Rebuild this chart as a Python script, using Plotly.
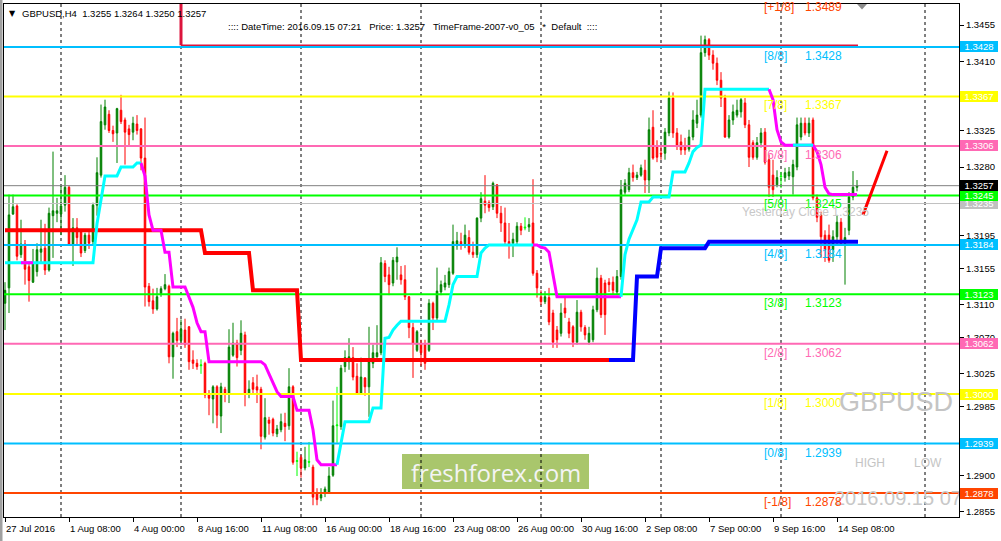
import plotly.graph_objects as go

# ---------------- data (GBPUSD H4, bar 0 = 27 Jul 2016 16:00) ----------------
bar_open = [1.3112,1.3131,1.3222,1.3232,1.3172,1.3185,1.3157,1.3138,1.3151,1.3175,
            1.3180,1.3153,1.3220,1.3223,1.3222,1.3233,1.3255,1.3185,1.3205,1.3200,
            1.3177,1.3196,1.3188,1.3233,1.3270,1.3332,1.3345,1.3325,1.3322,1.3350,
            1.3338,1.3327,1.3323,1.3333,1.3327,1.3291,1.3133,1.3115,1.3105,1.3124,
            1.3130,1.3133,1.3046,1.3077,1.3066,1.3079,1.3083,1.3042,1.3038,1.3035,
            1.3038,1.2999,1.2994,1.3009,1.2973,1.3006,1.3001,1.3048,1.3063,1.3054,
            1.3073,1.3001,1.3014,1.3009,1.3006,1.2947,1.2968,1.2969,1.2951,1.2956,
            1.2964,1.2961,1.3009,1.2917,1.2922,1.2909,1.2917,1.2910,1.2878,1.2872,
            1.2878,1.2879,1.2900,1.2961,1.2960,1.3034,1.3040,1.3045,1.3022,1.3001,
            1.3020,1.3009,1.3038,1.3046,1.3051,1.3161,1.3147,1.3137,1.3163,1.3147,
            1.3141,1.3120,1.3082,1.3054,1.3063,1.3061,1.3054,1.3112,1.3094,1.3126,
            1.3132,1.3135,1.3149,1.3183,1.3188,1.3184,1.3193,1.3175,1.3172,1.3217,
            1.3238,1.3236,1.3231,1.3258,1.3223,1.3211,1.3188,1.3186,1.3188,1.3207,
            1.3206,1.3206,1.3211,1.3149,1.3120,1.3114,1.3119,1.3100,1.3079,1.3075,
            1.3106,1.3089,1.3083,1.3064,1.3101,1.3082,1.3064,1.3067,1.3104,1.3143,
            1.3137,1.3138,1.3138,1.3126,1.3145,1.3249,1.3252,1.3273,1.3267,1.3270,
            1.3276,1.3264,1.3329,1.3305,1.3297,1.3297,1.3322,1.3365,1.3322,1.3311,
            1.3305,1.3302,1.3317,1.3334,1.3344,1.3421,1.3437,1.3418,1.3408,1.3387,
            1.3365,1.3317,1.3338,1.3344,1.3348,1.3359,1.3332,1.3310,1.3292,1.3310,
            1.3323,1.3289,1.3270,1.3258,1.3268,1.3267,1.3269,1.3268,1.3280,1.3317,
            1.3334,1.3322,1.3338,1.3242,1.3221,1.3196,1.3196,1.3178,1.3194,1.3212,
            1.3186,1.3202,1.3243,1.3255]
bar_high = [1.3138,1.3246,1.3246,1.3234,1.3215,1.3190,1.3162,1.3179,1.3186,1.3215,
            1.3210,1.3230,1.3299,1.3242,1.3258,1.3270,1.3257,1.3217,1.3217,1.3202,
            1.3199,1.3202,1.3236,1.3292,1.3357,1.3363,1.3350,1.3331,1.3353,1.3369,
            1.3341,1.3332,1.3342,1.3344,1.3328,1.3341,1.3137,1.3130,1.3131,1.3133,
            1.3148,1.3135,1.3077,1.3094,1.3092,1.3093,1.3084,1.3054,1.3043,1.3043,
            1.3040,1.3005,1.3011,1.3011,1.3014,1.3009,1.3080,1.3088,1.3067,1.3091,
            1.3077,1.3017,1.3021,1.3024,1.3009,1.2995,1.2972,1.2971,1.2962,1.2976,
            1.2977,1.3032,1.3011,1.2929,1.2925,1.2935,1.2941,1.2913,1.2884,1.2884,
            1.2886,1.2910,1.2992,1.3009,1.3036,1.3054,1.3069,1.3058,1.3038,1.3045,
            1.3021,1.3083,1.3061,1.3085,1.3169,1.3165,1.3157,1.3169,1.3181,1.3158,
            1.3159,1.3121,1.3088,1.3079,1.3067,1.3067,1.3117,1.3114,1.3156,1.3140,
            1.3147,1.3156,1.3209,1.3200,1.3199,1.3209,1.3202,1.3188,1.3218,1.3249,
            1.3270,1.3239,1.3262,1.3259,1.3232,1.3230,1.3211,1.3199,1.3212,1.3211,
            1.3218,1.3217,1.3265,1.3153,1.3128,1.3127,1.3131,1.3104,1.3084,1.3112,
            1.3119,1.3094,1.3085,1.3116,1.3104,1.3085,1.3083,1.3109,1.3156,1.3147,
            1.3141,1.3143,1.3145,1.3153,1.3264,1.3265,1.3279,1.3283,1.3274,1.3283,
            1.3289,1.3341,1.3350,1.3313,1.3307,1.3328,1.3373,1.3372,1.3328,1.3320,
            1.3316,1.3326,1.3350,1.3363,1.3442,1.3442,1.3439,1.3424,1.3415,1.3397,
            1.3369,1.3344,1.3357,1.3363,1.3365,1.3365,1.3338,1.3313,1.3317,1.3328,
            1.3328,1.3295,1.3289,1.3276,1.3274,1.3279,1.3280,1.3289,1.3341,1.3341,
            1.3341,1.3341,1.3341,1.3246,1.3225,1.3202,1.3209,1.3202,1.3221,1.3217,
            1.3205,1.3249,1.3275,1.3264]
bar_low = [1.3079,1.3100,1.3221,1.3165,1.3168,1.3135,1.3114,1.3137,1.3145,1.3162,
           1.3147,1.3151,1.3168,1.3212,1.3196,1.3225,1.3183,1.3158,1.3184,1.3169,
           1.3174,1.3179,1.3184,1.3220,1.3267,1.3326,1.3322,1.3311,1.3285,1.3333,
           1.3283,1.3307,1.3313,1.3320,1.3276,1.3108,1.3108,1.3099,1.3103,1.3120,
           1.3128,1.3038,1.3019,1.3058,1.3061,1.3057,1.3030,1.3031,1.3030,1.3025,
           1.2995,1.2974,1.2964,1.2958,1.2952,1.2990,1.2989,1.3046,1.3034,1.3048,
           1.2985,1.2995,1.2999,1.2989,1.2932,1.2944,1.2950,1.2948,1.2947,1.2953,
           1.2942,1.2956,1.2913,1.2899,1.2897,1.2906,1.2910,1.2863,1.2863,1.2868,
           1.2873,1.2877,1.2898,1.2940,1.2956,1.3027,1.3030,1.3017,1.2999,1.2999,
           1.2998,1.2972,1.3032,1.3045,1.3048,1.3138,1.3122,1.3133,1.3141,1.3135,
           1.3116,1.3069,1.3020,1.3052,1.3035,1.3030,1.3052,1.3079,1.3091,1.3122,
           1.3128,1.3131,1.3147,1.3178,1.3178,1.3180,1.3172,1.3168,1.3168,1.3212,
           1.3223,1.3225,1.3227,1.3217,1.3200,1.3184,1.3167,1.3169,1.3184,1.3196,
           1.3202,1.3200,1.3146,1.3119,1.3110,1.3111,1.3085,1.3057,1.3057,1.3071,
           1.3094,1.3069,1.3058,1.3061,1.3077,1.3067,1.3061,1.3064,1.3101,1.3094,
           1.3073,1.3126,1.3122,1.3122,1.3141,1.3246,1.3249,1.3262,1.3264,1.3268,
           1.3248,1.3248,1.3289,1.3286,1.3289,1.3289,1.3318,1.3316,1.3301,1.3295,
           1.3295,1.3299,1.3313,1.3328,1.3341,1.3416,1.3412,1.3400,1.3381,1.3354,
           1.3316,1.3315,1.3332,1.3341,1.3341,1.3328,1.3280,1.3289,1.3289,1.3304,
           1.3283,1.3243,1.3243,1.3255,1.3254,1.3262,1.3264,1.3246,1.3276,1.3313,
           1.3319,1.3317,1.3239,1.3212,1.3168,1.3163,1.3162,1.3163,1.3184,1.3184,
           1.3135,1.3196,1.3239,1.3250]
bar_close = [1.3128,1.3221,1.3231,1.3170,1.3185,1.3154,1.3140,1.3162,1.3178,1.3179,
             1.3153,1.3223,1.3226,1.3226,1.3232,1.3255,1.3185,1.3205,1.3193,1.3174,
             1.3196,1.3186,1.3233,1.3273,1.3336,1.3354,1.3325,1.3321,1.3352,1.3336,
             1.3323,1.3320,1.3334,1.3325,1.3291,1.3132,1.3114,1.3105,1.3120,1.3130,
             1.3135,1.3046,1.3075,1.3066,1.3080,1.3061,1.3040,1.3038,1.3034,1.3036,
             1.2999,1.2995,1.3009,1.2974,1.3009,1.3001,1.3058,1.3063,1.3045,1.3075,
             1.3001,1.3006,1.3006,1.3005,1.2948,1.2971,1.2964,1.2952,1.2957,1.2966,
             1.2960,1.3009,1.2916,1.2918,1.2909,1.2919,1.2916,1.2873,1.2870,1.2876,
             1.2883,1.2899,1.2961,1.2962,1.3032,1.3045,1.3046,1.3021,1.3001,1.3021,
             1.3009,1.3040,1.3051,1.3051,1.3162,1.3145,1.3135,1.3165,1.3169,1.3141,
             1.3120,1.3082,1.3063,1.3077,1.3051,1.3038,1.3112,1.3094,1.3127,1.3135,
             1.3137,1.3151,1.3188,1.3189,1.3184,1.3196,1.3175,1.3172,1.3217,1.3241,
             1.3233,1.3230,1.3260,1.3223,1.3211,1.3188,1.3184,1.3191,1.3207,1.3202,
             1.3205,1.3209,1.3149,1.3131,1.3114,1.3120,1.3089,1.3064,1.3067,1.3100,
             1.3100,1.3075,1.3064,1.3101,1.3083,1.3073,1.3075,1.3104,1.3143,1.3098,
             1.3098,1.3135,1.3128,1.3145,1.3252,1.3260,1.3273,1.3267,1.3270,1.3279,
             1.3264,1.3326,1.3291,1.3292,1.3296,1.3323,1.3365,1.3322,1.3307,1.3301,
             1.3301,1.3317,1.3338,1.3344,1.3421,1.3437,1.3418,1.3408,1.3387,1.3365,
             1.3317,1.3338,1.3348,1.3350,1.3363,1.3332,1.3292,1.3292,1.3310,1.3322,
             1.3286,1.3255,1.3252,1.3267,1.3269,1.3273,1.3274,1.3283,1.3332,1.3334,
             1.3322,1.3334,1.3242,1.3218,1.3194,1.3178,1.3165,1.3194,1.3212,1.3186,
             1.3193,1.3243,1.3255,1.3257]
doji_bars = [49, 73, 76, 83, 130, 194]

time_tick_bars = [0, 16, 32, 48, 64, 80, 96, 112, 128, 144, 160, 176, 192, 208]
time_tick_labels = ["27 Jul 2016", "1 Aug 08:00", "4 Aug 00:00", "8 Aug 16:00", "11 Aug 08:00",
                    "16 Aug 00:00", "18 Aug 16:00", "23 Aug 08:00", "26 Aug 00:00", "30 Aug 16:00",
                    "2 Sep 08:00", "7 Sep 00:00", "9 Sep 16:00", "14 Sep 08:00"]
separator_bars = [14, 44, 74, 104, 134, 164, 194, 230]
price_ticks = [1.3455, 1.3410, 1.3325, 1.3280, 1.3195, 1.3155, 1.3110, 1.3070, 1.3025, 1.2985, 1.2900, 1.2855]

murrey_names = ["[+1/8]", "[8/8]", "[7/8]", "[6/8]", "[5/8]", "[4/8]", "[3/8]", "[2/8]", "[1/8]", "[0/8]", "[-1/8]"]
murrey_levels = [1.3489, 1.3428, 1.3367, 1.3306, 1.3245, 1.3184, 1.3123, 1.3062, 1.3000, 1.2939, 1.2878]
murrey_colors = ["#FF4500", "#00BFFF", "#FFFF00", "#FF69B4", "#00FF00", "#00BFFF",
                 "#00FF00", "#FF69B4", "#FFFF00", "#00BFFF", "#FF4500"]

current_price = 1.3257
yesterday_close = 1.3235
week_high = 1.3430
week_high_bar = 44
last_bar = 213

# trailing-stop indicator (cyan = up, magenta = down)
up1_x = [0, 22, 23, 24, 25, 28, 29, 32, 33, 34]
up1_y = [1.3162, 1.3162, 1.3210, 1.3240, 1.3269, 1.3269, 1.3280, 1.3280, 1.3285, 1.3285]
dn0_x = [4, 7]
dn0_y = [1.3162, 1.3162]
dn1_x = [34, 35, 36, 37, 39, 40, 41, 42, 45, 46, 47, 48, 49, 50, 51, 64, 65, 66, 67, 68, 69, 72, 73, 76, 77, 78, 79, 83]
dn1_y = [1.3285, 1.3269, 1.3221, 1.3202, 1.3202, 1.3175, 1.3175, 1.3132, 1.3132, 1.3120, 1.3107, 1.3088,
         1.3077, 1.3077, 1.3040, 1.3040, 1.3036, 1.3025, 1.3014, 1.3003, 1.2997, 1.2997, 1.2980, 1.2980,
         1.2956, 1.2919, 1.2913, 1.2913]
up2_x = [83, 84, 85, 91, 92, 94, 95, 96, 97, 98, 99, 110, 111, 112, 113, 118, 119, 120, 121, 132]
up2_y = [1.2913, 1.2940, 1.2966, 1.2966, 1.2983, 1.2983, 1.3069, 1.3070, 1.3079, 1.3085, 1.3090, 1.3090,
         1.3110, 1.3135, 1.3145, 1.3145, 1.3174, 1.3180, 1.3184, 1.3184]
dn2_x = [132, 133, 134, 135, 136, 137, 138, 154]
dn2_y = [1.3184, 1.3184, 1.3181, 1.3180, 1.3175, 1.3147, 1.3120, 1.3120]
up3_x = [154, 155, 156, 157, 158, 159, 161, 162, 166, 167, 170, 171, 172, 173, 174, 175, 191]
up3_y = [1.3120, 1.3172, 1.3191, 1.3202, 1.3215, 1.3237, 1.3237, 1.3243, 1.3243, 1.3274, 1.3274, 1.3285,
         1.3299, 1.3304, 1.3307, 1.3376, 1.3376]
up4_x = [197, 202]
up4_y = [1.3307, 1.3307]
dn3_x = [191, 192, 193, 194, 195, 202, 203, 204, 205, 206, 207, 213]
dn3_y = [1.3376, 1.3363, 1.3326, 1.3311, 1.3307, 1.3307, 1.3299, 1.3283, 1.3255, 1.3247, 1.3246, 1.3246]

# step line (red = down regime, blue = up regime)
red_x = [0, 49, 50, 61, 62, 73, 74, 151]
red_y = [1.3202, 1.3202, 1.3174, 1.3174, 1.3128, 1.3128, 1.3042, 1.3042]
blue_x = [151, 157, 158, 163, 164, 175, 176, 213.25]
blue_y = [1.3042, 1.3042, 1.3145, 1.3145, 1.3180, 1.3180, 1.3188, 1.3188]

# projection trend line
trend_x = [214.5, 220.5]
trend_y = [1.3221, 1.3300]

# ---------------- layout helpers ----------------
PL, PR, PT, PB = 4, 959, 4, 517
X0, X1 = -0.25, 238.5
Y0, Y1 = 1.28485, 1.34810


def px(x):
    return (x - PL) / (PR - PL)


def py(y):
    return (PB - y) / (PB - PT)


def bar_at(x):
    return X0 + (x - PL) / (PR - PL) * (X1 - X0)


def price_at(y):
    return Y0 + (PB - y) / (PB - PT) * (Y1 - Y0)


def y_of_price(p):
    return PB - (p - Y0) / (Y1 - Y0) * (PB - PT)


FONT = "Liberation Sans, Arial, sans-serif"

fig = go.Figure()

# candles
reg = [i for i in range(len(bar_open)) if i not in doji_bars]
fig.add_trace(go.Candlestick(
    x=reg,
    open=[bar_open[i] for i in reg], high=[bar_high[i] for i in reg],
    low=[bar_low[i] for i in reg], close=[bar_close[i] for i in reg],
    increasing=dict(line=dict(color="#008000", width=1), fillcolor="#008000"),
    decreasing=dict(line=dict(color="#FF0000", width=1), fillcolor="#FF0000"),
    whiskerwidth=0, hoverinfo="skip"))
fig.add_trace(go.Candlestick(
    x=doji_bars,
    open=[bar_open[i] for i in doji_bars], high=[bar_high[i] for i in doji_bars],
    low=[bar_low[i] for i in doji_bars], close=[bar_close[i] for i in doji_bars],
    increasing=dict(line=dict(color="#00FF00", width=1), fillcolor="#00FF00"),
    decreasing=dict(line=dict(color="#00FF00", width=1), fillcolor="#00FF00"),
    whiskerwidth=0, hoverinfo="skip"))

# horizontal lines
for lvl, col in zip(murrey_levels, murrey_colors):
    fig.add_trace(go.Scatter(x=[X0 - 5, X1 + 5], y=[lvl, lvl], mode="lines",
                             line=dict(color=col, width=2), hoverinfo="skip"))
fig.add_trace(go.Scatter(x=[X0 - 5, X1 + 5], y=[current_price] * 2, mode="lines",
                         line=dict(color="#808080", width=1), hoverinfo="skip"))
fig.add_trace(go.Scatter(x=[X0 - 5, X1 + 5], y=[yesterday_close] * 2, mode="lines",
                         line=dict(color="#C0C0C0", width=1), hoverinfo="skip"))

# step line
fig.add_trace(go.Scatter(x=red_x, y=red_y, mode="lines", line=dict(color="#FF0000", width=4), hoverinfo="skip"))
fig.add_trace(go.Scatter(x=blue_x, y=blue_y, mode="lines", line=dict(color="#0000FF", width=4), hoverinfo="skip"))

# trailing stop
for xs, ys, col in [(up1_x, up1_y, "#00FFFF"), (dn0_x, dn0_y, "#FF00FF"), (dn1_x, dn1_y, "#FF00FF"),
                    (up2_x, up2_y, "#00FFFF"), (dn2_x, dn2_y, "#FF00FF"), (up3_x, up3_y, "#00FFFF"),
                    (dn3_x, dn3_y, "#FF00FF"), (up4_x, up4_y, "#00FFFF")]:
    fig.add_trace(go.Scatter(x=xs, y=ys, mode="lines", line=dict(color=col, width=3), hoverinfo="skip"))

# week high marker (crimson)
fig.add_trace(go.Scatter(x=[week_high_bar, week_high_bar], y=[Y1 + 0.001, week_high], mode="lines",
                         line=dict(color="#DC143C", width=3), hoverinfo="skip"))
fig.add_trace(go.Scatter(x=[week_high_bar, last_bar + 0.25], y=[week_high, week_high], mode="lines",
                         line=dict(color="#DC143C", width=1.5), hoverinfo="skip"))

# trend line
fig.add_trace(go.Scatter(x=trend_x, y=trend_y, mode="lines", line=dict(color="#FF0000", width=3), hoverinfo="skip"))

# clipped time watermark
fig.add_trace(go.Scatter(x=[bar_at(834)], y=[price_at(500)], mode="text", text=["2016.09.15 07:21"],
                         textposition="middle right", cliponaxis=True,
                         textfont=dict(family=FONT, size=20, color="#C8C8C8"), hoverinfo="skip"))

shapes = []
# freshforex banner
shapes.append(dict(type="rect", xref="paper", yref="paper", x0=px(402), x1=px(589), y0=py(489), y1=py(454),
                   fillcolor="#A9C66C", line=dict(width=0), layer="below"))
# period separators
for b in separator_bars:
    shapes.append(dict(type="line", xref="x", yref="paper", x0=b, x1=b, y0=0, y1=1,
                       line=dict(color="black", width=1, dash="3px,3px"), layer="below"))
# left window edge
shapes.append(dict(type="rect", xref="paper", yref="paper", x0=px(0), x1=px(2.5), y0=py(541), y1=py(0),
                   fillcolor="#A0A0A0", line=dict(width=0), layer="above"))
# small gray triangle at top
shapes.append(dict(type="path", xref="paper", yref="paper",
                   path=f"M {px(857)} {py(4)} L {px(867)} {py(4)} L {px(862)} {py(9.5)} Z",
                   fillcolor="#8C8C8C", line=dict(width=0), layer="above"))

ann = []
# x axis labels
for b, t in zip(time_tick_bars, time_tick_labels):
    ann.append(dict(x=b, xref="x", y=0, yref="paper", text=t, showarrow=False, xanchor="left",
                    yanchor="top", xshift=-1, yshift=-4, font=dict(family=FONT, size=9.5, color="black")))

# murrey labels (paper y so that labels above the visible range still show)
for name, lvl, col in zip(murrey_names, murrey_levels, murrey_colors):
    ly = py(y_of_price(lvl) + 9)
    ann.append(dict(x=bar_at(762), xref="x", y=ly, yref="paper", text=name, showarrow=False, xanchor="left",
                    yanchor="middle", font=dict(family=FONT, size=12, color=col)))
    ann.append(dict(x=bar_at(803), xref="x", y=ly, yref="paper", text=f"{lvl:.4f}", showarrow=False,
                    xanchor="left", yanchor="middle", font=dict(family=FONT, size=12, color=col)))

# price boxes on the right axis
boxes = [(lv, c) for lv, c in zip(murrey_levels[1:], murrey_colors[1:]) if lv != 1.3245]
boxes += [(yesterday_close, "#C0C0C0"), (1.3245, "#00FF00"), (current_price, "#000000")]
for lv, c in boxes:
    ann.append(dict(x=1, xref="paper", y=lv, yref="y", text=f"{lv:.4f}", showarrow=False, xanchor="left",
                    yanchor="middle", xshift=1, width=38, height=11, bgcolor=c, borderpad=0, borderwidth=0,
                    align="center", font=dict(family=FONT, size=9.5, color="white")))

# header texts
ann.append(dict(x=px(7), xref="paper", y=py(13), yref="paper", text="▼", showarrow=False, xanchor="left",
                yanchor="middle", font=dict(family="DejaVu Sans", size=8, color="black")))
ann.append(dict(x=px(20), xref="paper", y=py(13), yref="paper", text="GBPUSD,H4  1.3255 1.3264 1.3250 1.3257",
                showarrow=False, xanchor="left", yanchor="middle", font=dict(family=FONT, size=9.5, color="black")))
ann.append(dict(x=px(226), xref="paper", y=py(26), yref="paper",
                text=":::: DateTime: 2016.09.15 07:21   Price: 1.3257   TimeFrame-2007-v0_05   *  Default  ::::",
                showarrow=False, xanchor="left", yanchor="middle", font=dict(family=FONT, size=9.5, color="black")))

# watermarks
ann.append(dict(x=px(896), xref="paper", y=py(402), yref="paper", text="GBPUSD", showarrow=False,
                xanchor="center", yanchor="middle", font=dict(family=FONT, size=27, color="#C4C4C4")))
ann.append(dict(x=px(870), xref="paper", y=py(463), yref="paper", text="HIGH", showarrow=False,
                xanchor="center", yanchor="middle", font=dict(family=FONT, size=12, color="#C4C4C4")))
ann.append(dict(x=px(928), xref="paper", y=py(463), yref="paper", text="LOW", showarrow=False,
                xanchor="center", yanchor="middle", font=dict(family=FONT, size=12, color="#C4C4C4")))
ann.append(dict(x=bar_at(740), xref="x", y=yesterday_close, yref="y", text="Yesterday Close 1.3235",
                showarrow=False, xanchor="left", yanchor="middle", yshift=-8,
                font=dict(family=FONT, size=12, color="#C8C8C8")))
ann.append(dict(x=px(495.5), xref="paper", y=py(472), yref="paper", text="freshforex.com", showarrow=False,
                xanchor="center", yanchor="middle",
                font=dict(family="Open Sans, sans-serif", size=24, color="#F4F4F4")))

fig.update_layout(
    width=1001, height=541,
    margin=dict(l=PL, r=1001 - PR, t=PT, b=541 - PB, pad=0),
    paper_bgcolor="white", plot_bgcolor="white",
    showlegend=False, hovermode=False, boxgap=0.45,
    shapes=shapes, annotations=ann,
    xaxis=dict(range=[X0, X1], showgrid=False, zeroline=False, showline=True, mirror=True,
               linecolor="black", linewidth=1, ticks="outside", ticklen=4, tickcolor="black",
               tickvals=time_tick_bars, showticklabels=False, rangeslider=dict(visible=False),
               automargin=False),
    yaxis=dict(range=[Y0, Y1], side="right", showgrid=False, zeroline=False, showline=True, mirror=True,
               linecolor="black", linewidth=1, ticks="outside", ticklen=4, tickcolor="black",
               tickvals=price_ticks, ticktext=[f"{v:.4f}" for v in price_ticks],
               tickfont=dict(family=FONT, size=9.5, color="black"), automargin=False),
)

fig.write_html("out.html", config={"displayModeBar": False, "staticPlot": True},
               post_script="document.body.style.margin='0';")
